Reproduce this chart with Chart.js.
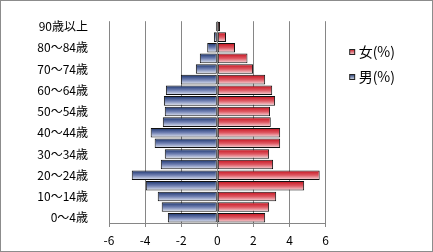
<!DOCTYPE html>
<html>
<head>
<meta charset="utf-8">
<script src="https://cdn.jsdelivr.net/npm/chart.js@4"></script>
<style>
    body { margin: 0; background: #fff; }
    #wrap { width: 433px; height: 252px; border: 1px solid #8c8c8c; box-sizing: border-box; }
</style>
</head>
<body>
<div id="wrap"><canvas id="pyramid"></canvas></div>
<script>
let ages = ['0～4歳', '5～9歳', '10～14歳', '15～19歳', '20～24歳', '25～29歳', '30～34歳', '35～39歳',
    '40～44歳', '45～49歳', '50～54歳', '55～59歳', '60～64歳', '65～69歳', '70～74歳', '75～79歳',
    '80～84歳', '85～89歳', '90歳以上']
let women = [2.65, 2.87, 3.26, 4.81, 5.67, 3.09, 2.87, 3.48, 3.48, 2.96, 2.92, 3.2, 3.04, 2.65, 1.98, 1.67, 0.98, 0.48, 0.15]
let men = [2.74, 3.08, 3.3, 3.96, 4.74, 3.13, 2.91, 3.47, 3.69, 3.02, 2.91, 2.96, 2.85, 2.02, 1.19, 0.97, 0.56, 0.19, 0.08]
let x_ticks = [-6, -4, -2, 0, 2, 4, 6]
let labels = ['女(%)', '男(%)']

let red = ['#c40f1c', '#de5862', '#f7e0e3']
let blue = ['#17306a', '#7080b2', '#e8ecf5']

function gradientFill(colors) {
    return ctx => {
        let chart = ctx.chart
        let y = chart.scales.y
        if (ctx.type !== 'data' || !y) return colors[1]
        let mid = y.getPixelForValue(ctx.dataIndex)
        let half = y.height / ages.length * 0.45
        if (!isFinite(mid) || !isFinite(half) || half <= 0) return colors[1]
        let g = chart.ctx.createLinearGradient(0, mid - half, 0, mid + half)
        g.addColorStop(0, colors[0])
        g.addColorStop(0.5, colors[1])
        g.addColorStop(1, colors[2])
        return g
    }
}

// little legend marker, square sits at the right part of a wider image
function marker(colors) {
    let c = document.createElement('canvas')
    c.width = 30
    c.height = 8
    let x = c.getContext('2d')
    let g = x.createLinearGradient(0, 1, 0, 7)
    g.addColorStop(0, colors[0])
    g.addColorStop(1, colors[2])
    x.fillStyle = g
    x.fillRect(20, 1, 6, 6)
    x.strokeStyle = '#222'
    x.lineWidth = 1
    x.strokeRect(20.5, 1.5, 5, 5)
    return c
}
let markers = [marker(red), marker(blue)]

Chart.defaults.font.family = '"Noto Sans CJK JP", sans-serif'
Chart.defaults.font.size = 12
Chart.defaults.color = '#000'

new Chart(document.getElementById('pyramid'), {
    type: 'bar',
    data: {
        labels: ages,
        datasets: [{
            label: labels[0],
            data: women,
            backgroundColor: gradientFill(red),
            borderColor: '#111',
            borderWidth: 1,
            borderSkipped: false,
            barPercentage: 0.9,
            categoryPercentage: 1
        }, {
            label: labels[1],
            data: men.map(v => -v),
            backgroundColor: gradientFill(blue),
            borderColor: '#111',
            borderWidth: 1,
            borderSkipped: false,
            barPercentage: 0.9,
            categoryPercentage: 1
        }]
    },
    options: {
        indexAxis: 'y',
        responsive: true,
        maintainAspectRatio: false,
        animation: false,
        layout: { padding: { top: 14, right: 27, bottom: 0, left: 0 } },
        scales: {
            x: {
                stacked: true,
                min: x_ticks[0],
                max: x_ticks[x_ticks.length - 1],
                ticks: { stepSize: 2, padding: 6, color: '#000' },
                grid: { color: '#868686', tickLength: 4 },
                border: { color: '#868686' },
                afterFit: s => { s.height = 28 }
            },
            y: {
                stacked: true,
                reverse: true,
                grid: { display: false },
                border: { display: false },
                ticks: {
                    autoSkip: false,
                    padding: 13,
                    callback: (v, i) => i % 2 === 0 ? ages[i] : ''
                },
                afterFit: s => { s.width = 108 }
            }
        },
        plugins: {
            tooltip: { enabled: false },
            legend: {
                position: 'right',
                align: 'start',
                title: { display: true, text: ' ', padding: 0, font: { size: 10, lineHeight: '19px' } },
                labels: {
                    font: { size: 14 },
                    padding: 11,
                    usePointStyle: true,
                    pointStyleWidth: 15,
                    generateLabels: chart => {
                        let items = Chart.defaults.plugins.legend.labels.generateLabels(chart)
                        items.forEach((it, i) => { it.pointStyle = markers[i] })
                        return items
                    }
                }
            }
        }
    }
})
</script>
</body>
</html>
